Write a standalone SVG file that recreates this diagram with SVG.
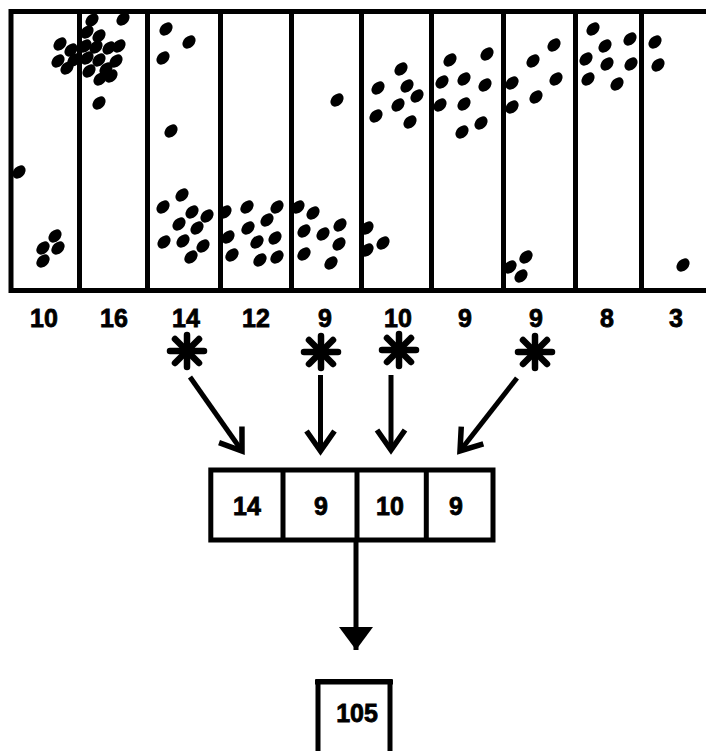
<svg xmlns="http://www.w3.org/2000/svg" width="706" height="751" viewBox="0 0 706 751">
  <style>
    .frame { fill: none; stroke: #000; stroke-width: 5; }
    .rule { stroke: #000; stroke-width: 5; }
    .dot { fill: #000; }
    .num { font-family: "Liberation Sans", Arial, sans-serif; font-weight: bold; font-size: 25px; fill: #000; stroke: #000; stroke-width: 0.8; text-anchor: middle; }
    .link { fill: none; stroke: #000; stroke-width: 5; }
    .spoke { stroke: #000; stroke-width: 6.5; stroke-linecap: round; }
  </style>
  <defs>
    <ellipse id="d" rx="7.6" ry="5.5" transform="rotate(-45)"/>
    <g id="star">
      <line class="spoke" x1="0" y1="-16" x2="0" y2="16"/>
      <line class="spoke" x1="-17" y1="0" x2="17" y2="0"/>
      <line class="spoke" x1="-12" y1="-12" x2="12" y2="12"/>
      <line class="spoke" x1="-12" y1="12" x2="12" y2="-12"/>
      <circle r="8"/>
    </g>
    <marker id="vee" markerUnits="userSpaceOnUse" markerWidth="30" markerHeight="30" refX="0" refY="0" orient="auto" viewBox="-25 -15 30 30" overflow="visible">
      <path d="M-20,-14 L0,0 L-20,14" fill="none" stroke="#000" stroke-width="5.5" stroke-linejoin="miter"/>
    </marker>
    <marker id="solid" markerUnits="userSpaceOnUse" markerWidth="40" markerHeight="40" refX="0" refY="0" orient="auto" viewBox="-25 -20 30 40" overflow="visible">
      <path d="M-23,-17 L0,0 L-23,17 Z" fill="#000"/>
    </marker>
  </defs>

  <rect width="706" height="751" fill="#fff"/>

  <!-- sample strip: ten cells with scattered points -->
  <g id="strip">
    <rect class="frame" x="11" y="11.5" width="710" height="279"/>
    <line class="rule" x1="79.5" y1="11" x2="79.5" y2="291"/>
    <line class="rule" x1="147.5" y1="11" x2="147.5" y2="291"/>
    <line class="rule" x1="220.5" y1="11" x2="220.5" y2="291"/>
    <line class="rule" x1="291.5" y1="11" x2="291.5" y2="291"/>
    <line class="rule" x1="361.5" y1="11" x2="361.5" y2="291"/>
    <line class="rule" x1="431.5" y1="11" x2="431.5" y2="291"/>
    <line class="rule" x1="503.5" y1="11" x2="503.5" y2="291"/>
    <line class="rule" x1="575.5" y1="11" x2="575.5" y2="291"/>
    <line class="rule" x1="641.5" y1="11" x2="641.5" y2="291"/>
    <g class="dot">
      <!-- cell 1 -->
      <use href="#d" x="19" y="172"/>
      <use href="#d" x="60" y="44"/>
      <use href="#d" x="58" y="61"/>
      <use href="#d" x="71" y="50"/>
      <use href="#d" x="67" y="68"/>
      <use href="#d" x="74" y="60"/>
      <use href="#d" x="55" y="236"/>
      <use href="#d" x="43" y="248"/>
      <use href="#d" x="58" y="248"/>
      <use href="#d" x="43" y="261"/>
      <!-- cell 2 -->
      <use href="#d" x="92" y="20"/>
      <use href="#d" x="123" y="19"/>
      <use href="#d" x="99" y="103"/>
      <use href="#d" x="87" y="32"/>
      <use href="#d" x="99" y="36"/>
      <use href="#d" x="85" y="46"/>
      <use href="#d" x="96" y="47"/>
      <use href="#d" x="109" y="48"/>
      <use href="#d" x="119" y="46"/>
      <use href="#d" x="87" y="58"/>
      <use href="#d" x="99" y="60"/>
      <use href="#d" x="116" y="61"/>
      <use href="#d" x="89" y="71"/>
      <use href="#d" x="106" y="69"/>
      <use href="#d" x="111" y="76"/>
      <use href="#d" x="100" y="79"/>
      <!-- cell 3 -->
      <use href="#d" x="166" y="29"/>
      <use href="#d" x="189" y="42"/>
      <use href="#d" x="163" y="58"/>
      <use href="#d" x="171" y="131"/>
      <use href="#d" x="182" y="195"/>
      <use href="#d" x="163" y="207"/>
      <use href="#d" x="192" y="212"/>
      <use href="#d" x="207" y="216"/>
      <use href="#d" x="179" y="224"/>
      <use href="#d" x="197" y="228"/>
      <use href="#d" x="164" y="242"/>
      <use href="#d" x="183" y="241"/>
      <use href="#d" x="203" y="246"/>
      <use href="#d" x="191" y="257"/>
      <!-- cell 4 -->
      <use href="#d" x="225" y="212"/>
      <use href="#d" x="228" y="237"/>
      <use href="#d" x="232" y="255"/>
      <use href="#d" x="247" y="207"/>
      <use href="#d" x="277" y="207"/>
      <use href="#d" x="267" y="220"/>
      <use href="#d" x="248" y="228"/>
      <use href="#d" x="257" y="242"/>
      <use href="#d" x="275" y="238"/>
      <use href="#d" x="260" y="260"/>
      <use href="#d" x="277" y="257"/>
      <!-- cell 5 -->
      <use href="#d" x="337" y="100"/>
      <use href="#d" x="298" y="207"/>
      <use href="#d" x="313" y="213"/>
      <use href="#d" x="304" y="231"/>
      <use href="#d" x="323" y="234"/>
      <use href="#d" x="340" y="225"/>
      <use href="#d" x="339" y="244"/>
      <use href="#d" x="304" y="254"/>
      <use href="#d" x="331" y="263"/>
      <!-- cell 6 -->
      <use href="#d" x="401" y="69"/>
      <use href="#d" x="378" y="88"/>
      <use href="#d" x="407" y="86"/>
      <use href="#d" x="417" y="96"/>
      <use href="#d" x="398" y="105"/>
      <use href="#d" x="376" y="116"/>
      <use href="#d" x="410" y="122"/>
      <use href="#d" x="367" y="228"/>
      <use href="#d" x="367" y="250"/>
      <use href="#d" x="383" y="243"/>
      <!-- cell 7 -->
      <use href="#d" x="450" y="60"/>
      <use href="#d" x="442" y="82"/>
      <use href="#d" x="440" y="105"/>
      <use href="#d" x="464" y="79"/>
      <use href="#d" x="464" y="104"/>
      <use href="#d" x="462" y="132"/>
      <use href="#d" x="487" y="54"/>
      <use href="#d" x="485" y="85"/>
      <use href="#d" x="481" y="123"/>
      <!-- cell 8 -->
      <use href="#d" x="512" y="83"/>
      <use href="#d" x="512" y="107"/>
      <use href="#d" x="533" y="61"/>
      <use href="#d" x="554" y="45"/>
      <use href="#d" x="556" y="79"/>
      <use href="#d" x="536" y="97"/>
      <use href="#d" x="510" y="267"/>
      <use href="#d" x="526" y="257"/>
      <use href="#d" x="521" y="276"/>
      <!-- cell 9 -->
      <use href="#d" x="593" y="29"/>
      <use href="#d" x="605" y="46"/>
      <use href="#d" x="586" y="59"/>
      <use href="#d" x="607" y="64"/>
      <use href="#d" x="588" y="79"/>
      <use href="#d" x="617" y="84"/>
      <use href="#d" x="630" y="39"/>
      <use href="#d" x="631" y="64"/>
      <!-- cell 10 -->
      <use href="#d" x="655" y="42"/>
      <use href="#d" x="658" y="65"/>
      <use href="#d" x="683" y="265"/>
    </g>
  </g>

  <!-- per-cell counts -->
  <g id="counts">
    <text class="num" x="44" y="327">10</text>
    <text class="num" x="114" y="327">16</text>
    <text class="num" x="186" y="327">14</text>
    <text class="num" x="256" y="327">12</text>
    <text class="num" x="325" y="327">9</text>
    <text class="num" x="398" y="327">10</text>
    <text class="num" x="465" y="327">9</text>
    <text class="num" x="536" y="327">9</text>
    <text class="num" x="607" y="327">8</text>
    <text class="num" x="676" y="327">3</text>
  </g>

  <!-- chosen cells -->
  <g id="picks">
    <use href="#star" x="187" y="351"/>
    <use href="#star" x="321" y="352"/>
    <use href="#star" x="399" y="350"/>
    <use href="#star" x="535" y="352"/>
  </g>

  <g id="connectors">
    <line class="link" x1="190" y1="377" x2="242" y2="451" marker-end="url(#vee)"/>
    <line class="link" x1="320.5" y1="375" x2="320.5" y2="451" marker-end="url(#vee)"/>
    <line class="link" x1="391" y1="375" x2="391" y2="450" marker-end="url(#vee)"/>
    <line class="link" x1="517" y1="378" x2="460" y2="451" marker-end="url(#vee)"/>
    <line class="link" x1="356" y1="542" x2="356" y2="650" marker-end="url(#solid)"/>
  </g>

  <!-- selected counts -->
  <g id="selected">
    <rect class="frame" x="210.8" y="470" width="282.2" height="70"/>
    <line class="rule" x1="283" y1="470" x2="283" y2="540"/>
    <line class="rule" x1="357" y1="470" x2="357" y2="540"/>
    <line class="rule" x1="426.3" y1="470" x2="426.3" y2="540"/>
    <text class="num" x="247" y="515">14</text>
    <text class="num" x="321" y="515">9</text>
    <text class="num" x="390" y="515">10</text>
    <text class="num" x="456" y="515">9</text>
  </g>

  <!-- total -->
  <g id="total">
    <rect class="frame" x="318" y="681.5" width="72" height="80" stroke-width="6"/>
    <line class="rule" x1="315" y1="682" x2="393" y2="682" stroke-width="8"/>
    <text class="num" x="357" y="722">105</text>
  </g>
</svg>
